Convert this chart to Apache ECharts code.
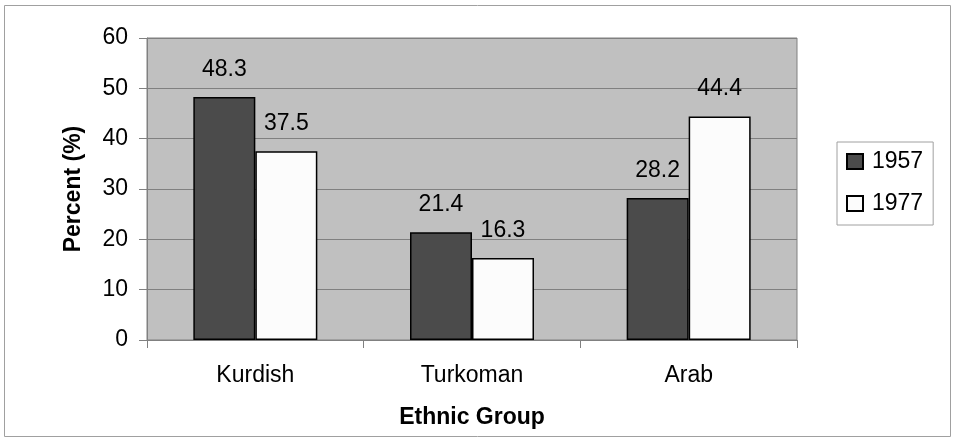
<!DOCTYPE html>
<html><head><meta charset="utf-8">
<script src="https://cdn.jsdelivr.net/npm/echarts@6/dist/echarts.min.js"></script>
<style>html,body{margin:0;padding:0;background:#fff}#c{width:953px;height:440px}</style>
</head><body><div id="c"></div>
<script>
const categories = ['Kurdish', 'Turkoman', 'Arab'];
const s1957 = [48.3, 21.4, 28.2];
const s1977 = [37.5, 16.3, 44.4];
const yTicks = [0, 10, 20, 30, 40, 50, 60];

const chart = echarts.init(document.getElementById('c'));
const font = 'Liberation Sans, Arial, sans-serif';
const FS = 23;
const lbl = {show: true, position: 'top', distance: 16, color: '#000', fontSize: FS, fontFamily: font, formatter: p => p.value.toFixed(1)};
chart.setOption({
  animation: false,
  graphic: [{type: 'rect', shape: {x: 4.5, y: 5.5, width: 946, height: 431}, style: {fill: 'none', stroke: '#a0a0a0', lineWidth: 1}, z: -10}],
  grid: {left: 147, top: 38, width: 650, height: 302, show: true, backgroundColor: '#c0c0c0', borderColor: '#808080', borderWidth: 1},
  legend: {
    orient: 'vertical', left: 837, top: 142, itemWidth: 16, itemHeight: 15, itemGap: 19,
    padding: [8, 10, 10, 9], borderColor: '#a0a0a0', borderWidth: 1, backgroundColor: '#fff',
    textStyle: {fontSize: FS, fontFamily: font, color: '#000', padding: [0, 0, 0, 4]},
    data: [{name: '1957', icon: 'rect'}, {name: '1977', icon: 'rect'}]
  },
  xAxis: {
    type: 'category', data: categories,
    name: 'Ethnic Group', nameLocation: 'middle', nameGap: 66,
    nameTextStyle: {fontSize: FS, fontWeight: 'bold', fontFamily: font, color: '#000'},
    axisLine: {lineStyle: {color: '#808080'}},
    axisTick: {show: true, length: 8, lineStyle: {color: '#808080'}},
    axisLabel: {fontSize: FS, fontFamily: font, color: '#000', margin: 24}
  },
  yAxis: {
    type: 'value', min: 0, max: 60, interval: 10,
    name: 'Percent (%)', nameLocation: 'middle', nameGap: 62,
    nameTextStyle: {fontSize: FS, fontWeight: 'bold', fontFamily: font, color: '#000'},
    axisLine: {show: true, lineStyle: {color: '#808080'}},
    axisTick: {show: true, length: 8, lineStyle: {color: '#808080'}},
    splitLine: {lineStyle: {color: '#808080'}},
    axisLabel: {fontSize: FS, fontFamily: font, color: '#000', margin: 19, formatter: v => yTicks.includes(v) ? String(v) : ''}
  },
  series: [
    {name: '1957', type: 'bar', data: s1957, barWidth: 62, barGap: '0%',
     itemStyle: {color: '#4b4b4b', borderColor: '#000', borderWidth: 1.5}, label: lbl},
    {name: '1977', type: 'bar', data: s1977, barWidth: 62, barGap: '0%',
     itemStyle: {color: '#fcfcfc', borderColor: '#000', borderWidth: 1.5}, label: lbl}
  ]
});
</script></body></html>
